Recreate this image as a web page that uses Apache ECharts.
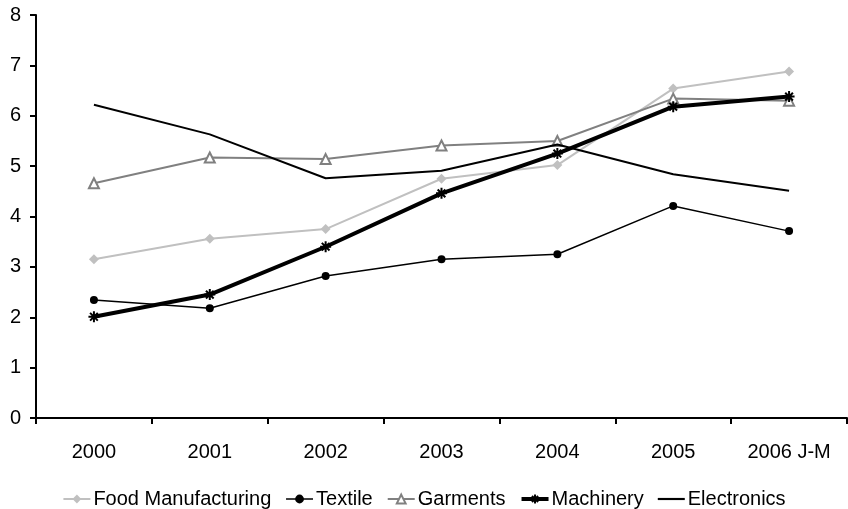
<!DOCTYPE html>
<html>
<head>
<meta charset="utf-8">
<script src="https://cdn.jsdelivr.net/npm/echarts@6/dist/echarts.min.js"></script>
<style>
  html, body { margin: 0; padding: 0; background: #fff; }
  #chart { width: 848px; height: 509px; }
</style>
</head>
<body>
<div id="chart"></div>
<script>
// Years on the horizontal axis
var years = ['2000', '2001', '2002', '2003', '2004', '2005', '2006 J-M'];

// Values per sector
var foodManufacturing = [3.15, 3.56, 3.75, 4.75, 5.02, 6.54, 6.88];
var textile           = [2.34, 2.18, 2.82, 3.15, 3.25, 4.21, 3.71];
var garments          = [4.66, 5.17, 5.14, 5.41, 5.50, 6.34, 6.30];
var machinery         = [2.01, 2.45, 3.40, 4.46, 5.25, 6.18, 6.38];
var electronics       = [6.22, 5.63, 4.76, 4.91, 5.43, 4.84, 4.51];

var FONT = 'Arial, "Liberation Sans", sans-serif';

// Eight-spoke star drawn as stroked segments
var asterisk = 'path://M0,5L10,5M5,0L5,10M1.5,1.5L8.5,8.5M8.5,1.5L1.5,8.5';
// Plain bar used as the legend key of a line without markers
var plainLine = 'path://M0,0L100,0L100,8L0,8Z';

var chart = echarts.init(document.getElementById('chart'), null, { renderer: 'canvas' });

chart.setOption({
  animation: false,
  backgroundColor: '#fff',
  textStyle: { fontFamily: FONT, color: '#000' },
  grid: { left: 36, right: 1, top: 15, bottom: 91, containLabel: false },
  legend: {
    top: 484,
    left: 'center',
    itemWidth: 27,
    itemHeight: 11,
    itemGap: 14,
    textStyle: { fontFamily: FONT, fontSize: 20, color: '#000', padding: [0, 0, 0, -2] },
    data: [
      {
        name: 'Food Manufacturing',
        lineStyle: { width: 2, color: '#c0c0c0' },
        itemStyle: { color: '#c0c0c0', borderWidth: 0 }
      },
      {
        name: 'Textile',
        lineStyle: { width: 1.5, color: '#000' },
        itemStyle: { color: '#000', borderWidth: 0 }
      },
      {
        name: 'Garments',
        lineStyle: { width: 2, color: '#808080' }
      },
      {
        name: 'Machinery',
        lineStyle: { width: 4, color: '#000' },
        itemStyle: { color: '#000', borderColor: '#000', borderWidth: 2 }
      },
      {
        name: 'Electronics',
        icon: plainLine,
        itemStyle: { color: '#000', borderWidth: 0 }
      }
    ]
  },
  xAxis: {
    type: 'category',
    data: years,
    boundaryGap: true,
    axisLine: { lineStyle: { color: '#000', width: 2 } },
    axisTick: { show: true, interval: 0, length: 6, lineStyle: { color: '#000', width: 2 } },
    axisLabel: { interval: 0, margin: 24, fontFamily: FONT, fontSize: 20, color: '#000' },
    splitLine: { show: false }
  },
  yAxis: {
    type: 'value',
    min: 0,
    max: 8,
    interval: 1,
    axisLine: { show: true, lineStyle: { color: '#000', width: 2 } },
    axisTick: { show: true, length: 6, lineStyle: { color: '#000', width: 2 } },
    axisLabel: { margin: 15, fontFamily: FONT, fontSize: 20, color: '#000' },
    splitLine: { show: false }
  },
  series: [
    {
      name: 'Food Manufacturing',
      type: 'line',
      data: foodManufacturing,
      symbol: 'diamond',
      symbolSize: 10,
      lineStyle: { color: '#c0c0c0', width: 2 },
      itemStyle: { color: '#c0c0c0', borderColor: '#c0c0c0', borderWidth: 0 },
      z: 2
    },
    {
      name: 'Textile',
      type: 'line',
      data: textile,
      symbol: 'circle',
      symbolSize: 8,
      lineStyle: { color: '#000', width: 1.5 },
      itemStyle: { color: '#000', borderColor: '#000', borderWidth: 0 },
      z: 3
    },
    {
      name: 'Garments',
      type: 'line',
      data: garments,
      symbol: 'emptyTriangle',
      symbolSize: 10,
      lineStyle: { color: '#808080', width: 2 },
      itemStyle: { color: '#808080', borderColor: '#808080', borderWidth: 2 },
      z: 2
    },
    {
      name: 'Machinery',
      type: 'line',
      data: machinery,
      symbol: asterisk,
      symbolSize: 11,
      lineStyle: { color: '#000', width: 4 },
      itemStyle: { color: '#000', borderColor: '#000', borderWidth: 2 },
      z: 4
    },
    {
      name: 'Electronics',
      type: 'line',
      data: electronics,
      symbol: 'none',
      lineStyle: { color: '#000', width: 2 },
      itemStyle: { color: '#000' },
      z: 3
    }
  ]
});
</script>
</body>
</html>
